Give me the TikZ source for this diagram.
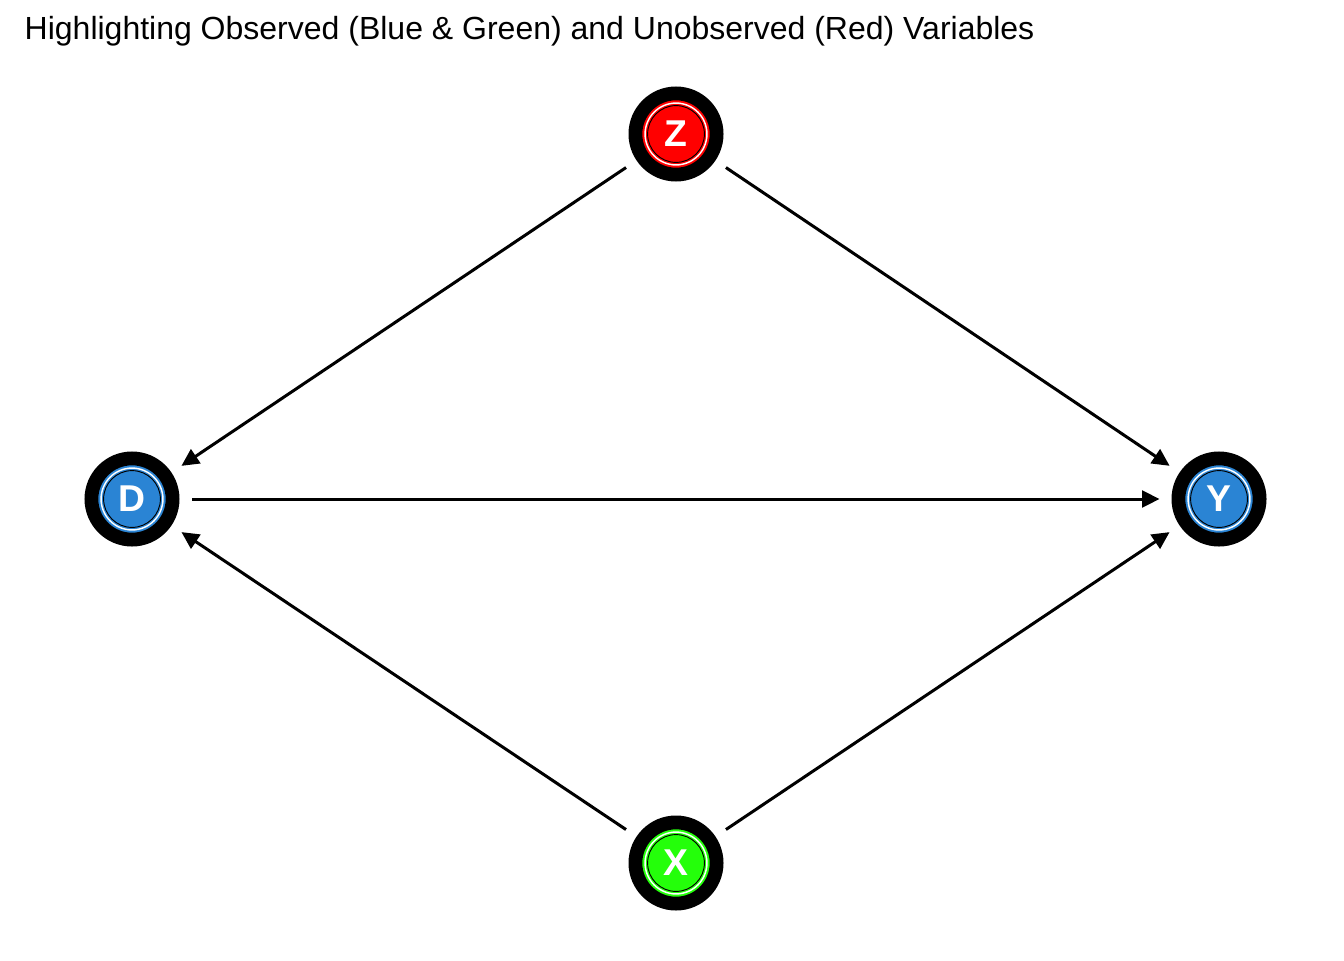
\documentclass[tikz,border=0pt]{standalone}
\usepackage{fontspec}
\setmainfont{Liberation Sans}
\usetikzlibrary{arrows.meta}
\definecolor{obsblue}{RGB}{42,132,212}
\definecolor{obsgreen}{RGB}{36,255,10}
\definecolor{unobsred}{RGB}{255,0,0}
\begin{document}
\begin{tikzpicture}[x=0.75pt,y=-0.75pt]

% page frame, one unit = one pixel
\useasboundingbox (0,0) rectangle (1344,960);
% size of each variable disc
\def\sz{60.9pt}
% node style definition
\tikzstyle{var} = [
	circle, draw=black, line width=10.35pt, minimum size=\sz, inner sep=0pt,
	text=white, font=\fontsize{28}{28}\selectfont\bfseries,
	path picture={
		\draw[white,line width=1.1pt] (path picture bounding box.center) circle (23.2pt);
		\draw[black,line width=0.7pt] (path picture bounding box.center) circle (21.3pt);
	} ];
\tikzstyle{edge} = [
	draw, line width=2.25pt, -{Triangle[length=13pt,width=12.5pt]},
	shorten <=9.5pt, shorten >=9pt ];

\node[anchor=base west,font=\fontsize{24}{28}\selectfont] (title) at (20,39)
	{Highlighting Observed (Blue \& Green) and Unobserved (Red) Variables};

\node[var,fill=unobsred] (Z) at (676,134) {Z};
\node[var,fill=obsblue] (D) at (132,499) {D};
\node[var,fill=obsblue] (Y) at (1219,499) {Y};
\node[var,fill=obsgreen] (X) at (676,863) {X};

\draw[edge] (Z) -- (D);
\draw[edge] (Z) -- (Y);
\draw[edge] (D) -- (Y);
\draw[edge] (X) -- (D);
\draw[edge] (X) -- (Y);

\end{tikzpicture}
\end{document}
